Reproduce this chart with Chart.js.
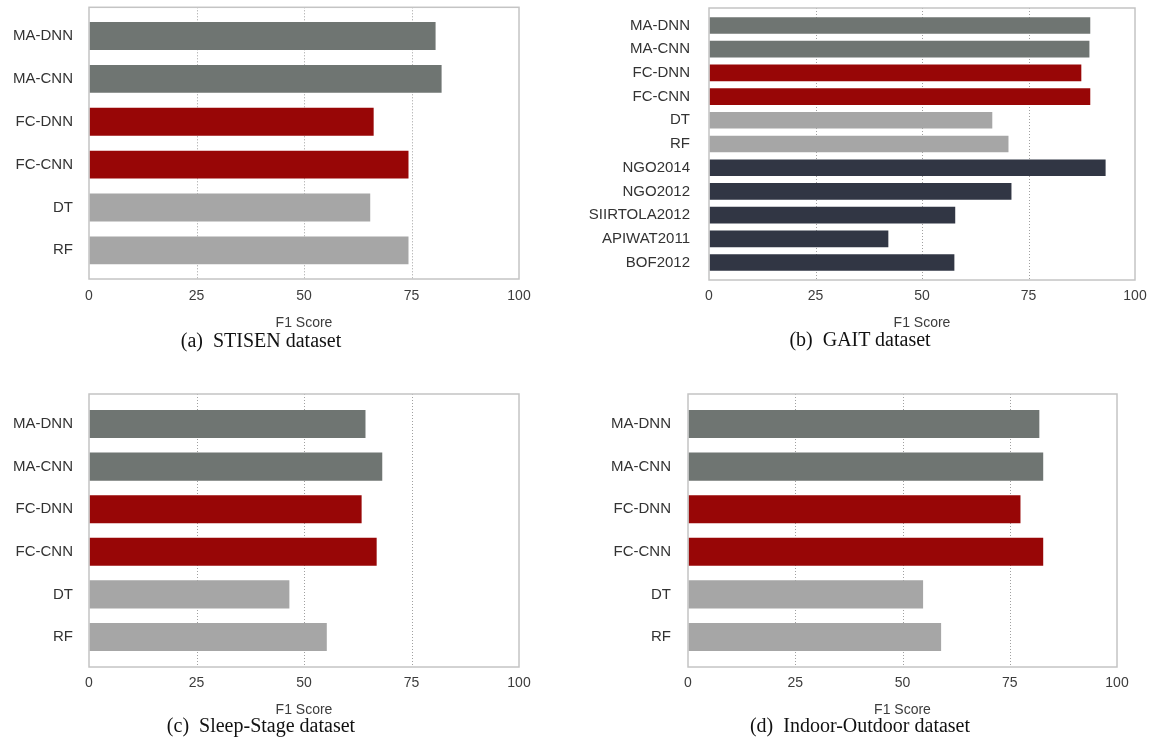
<!DOCTYPE html>
<html>
<head>
<meta charset="utf-8">
<script src="https://cdn.jsdelivr.net/npm/chart.js@4.4.0/dist/chart.umd.min.js"></script>
<style>
  body { margin: 0; background: #fff; width: 1152px; height: 738px; position: relative; overflow: hidden; }
  .panel { position: absolute; }
  .cap { position: absolute; font-family: "Liberation Serif", "Times New Roman", serif; font-size: 20px;
         line-height: 24px; color: #111; white-space: nowrap; transform: translateX(-50%); }
</style>
</head>
<body>
<div class="panel" style="left:0;top:0;width:540px;height:332px"><canvas id="ca"></canvas></div>
<div class="panel" style="left:580px;top:0;width:572px;height:332px"><canvas id="cb"></canvas></div>
<div class="panel" style="left:0;top:385px;width:540px;height:334px"><canvas id="cc"></canvas></div>
<div class="panel" style="left:580px;top:385px;width:572px;height:334px"><canvas id="cd"></canvas></div>

<div class="cap" style="left:261px;top:328px">(a)&nbsp; STISEN dataset</div>
<div class="cap" style="left:860px;top:327px">(b)&nbsp; GAIT dataset</div>
<div class="cap" style="left:261px;top:713px">(c)&nbsp; Sleep-Stage dataset</div>
<div class="cap" style="left:860px;top:713px">(d)&nbsp; Indoor-Outdoor dataset</div>

<script>
// categories
const methods = ['MA-DNN', 'MA-CNN', 'FC-DNN', 'FC-CNN', 'DT', 'RF'];
const gaitMethods = ['MA-DNN', 'MA-CNN', 'FC-DNN', 'FC-CNN', 'DT', 'RF',
  'NGO2014', 'NGO2012', 'SIIRTOLA2012', 'APIWAT2011', 'BOF2012'];

// F1 scores
const stisenF1 = [80.6, 82.0, 66.2, 74.3, 65.4, 74.3];
const gaitF1 = [89.5, 89.3, 87.4, 89.5, 66.5, 70.3, 93.1, 71.0, 57.8, 42.1, 57.6];
const sleepF1 = [64.3, 68.2, 63.4, 66.9, 46.6, 55.3];
const indoorF1 = [81.9, 82.8, 77.5, 82.8, 54.8, 59.0];

const xTicks = [0, 25, 50, 75, 100];

const maGray = '#6f7572', fcRed = '#980606', baseGray = '#a6a6a6', priorNavy = '#313644';
function barColor(label) {
  if (label.startsWith('MA')) return maGray;
  if (label.startsWith('FC')) return fcRed;
  if (label === 'DT' || label === 'RF') return baseGray;
  return priorNavy;
}

// frame + dotted gridlines, spanning a bit above/below the bar area
const boxPlugin = {
  id: 'box',
  beforeDatasetsDraw(chart, args, opts) {
    const { ctx, chartArea: a, scales: { x } } = chart;
    const top = a.top - opts.pad, bottom = a.bottom + opts.pad;
    ctx.save();
    ctx.strokeStyle = '#a0a0a0';
    ctx.lineWidth = 1;
    ctx.setLineDash([1, 2]);
    x.ticks.forEach(t => {
      if (t.value <= x.min || t.value >= x.max) return;
      const px = Math.round(x.getPixelForValue(t.value)) + 0.5;
      ctx.beginPath(); ctx.moveTo(px, top); ctx.lineTo(px, bottom); ctx.stroke();
    });
    ctx.restore();
  },
  afterDatasetsDraw(chart, args, opts) {
    const { ctx, chartArea: a } = chart;
    ctx.save();
    ctx.strokeStyle = '#c4c4c4';
    ctx.lineWidth = 1.5;
    ctx.strokeRect(a.left, a.top - opts.pad, a.right - a.left, a.bottom - a.top + 2 * opts.pad);
    ctx.restore();
  }
};

// invisible tick marks give the gap between labels and frame
function gapGrid(len) {
  return { display: true, drawOnChartArea: false, drawTicks: true, tickLength: len,
           color: 'rgba(0,0,0,0)', tickColor: 'rgba(0,0,0,0)' };
}

function makeChart(id, labels, values, p) {
  const el = document.getElementById(id);
  const h = el.parentNode.clientHeight;
  return new Chart(el, {
    type: 'bar',
    data: {
      labels: labels,
      datasets: [{
        data: values,
        backgroundColor: labels.map(barColor),
        borderWidth: 0,
        barPercentage: p.barPct,
        categoryPercentage: 1
      }]
    },
    options: {
      indexAxis: 'y',
      responsive: true,
      maintainAspectRatio: false,
      animation: false,
      layout: { padding: { top: p.chartTop, right: p.padRight, left: 0, bottom: 0 } },
      scales: {
        x: {
          min: 0, max: 100,
          afterBuildTicks: s => { s.ticks = xTicks.map(v => ({ value: v })); },
          afterFit: s => { s.height = h - p.chartBottom; },
          grid: gapGrid(p.tickPad),
          border: { display: false },
          ticks: { padding: 0, color: '#3c3c3c', font: { family: 'Liberation Sans', size: 14 } },
          title: { display: true, text: 'F1 Score', color: '#3c3c3c', padding: 0,
                   font: { family: 'Liberation Sans', size: 14 } }
        },
        y: {
          afterFit: s => { s.width = p.yWidth; },
          grid: gapGrid(p.labelPad),
          border: { display: false },
          ticks: { padding: 0, color: '#333', font: { family: 'Liberation Sans', size: 15 } }
        }
      },
      plugins: {
        legend: { display: false },
        tooltip: { enabled: false },
        box: { pad: p.pad }
      }
    },
    plugins: [boxPlugin]
  });
}

makeChart('ca', methods, stisenF1,
  { yWidth: 89, padRight: 21, chartTop: 14.5, chartBottom: 271.8, pad: 7.2, tickPad: 16, labelPad: 16, barPct: 0.65 });
makeChart('cb', gaitMethods, gaitF1,
  { yWidth: 129, padRight: 17, chartTop: 13.6, chartBottom: 274.4, pad: 5.6, tickPad: 13.6, labelPad: 19, barPct: 0.70 });
makeChart('cc', methods, sleepF1,
  { yWidth: 89, padRight: 21, chartTop: 17.7, chartBottom: 273.3, pad: 8.7, tickPad: 16.7, labelPad: 16, barPct: 0.66 });
makeChart('cd', methods, indoorF1,
  { yWidth: 108, padRight: 35, chartTop: 17.7, chartBottom: 273.3, pad: 8.7, tickPad: 16.7, labelPad: 17, barPct: 0.66 });
</script>
</body>
</html>
